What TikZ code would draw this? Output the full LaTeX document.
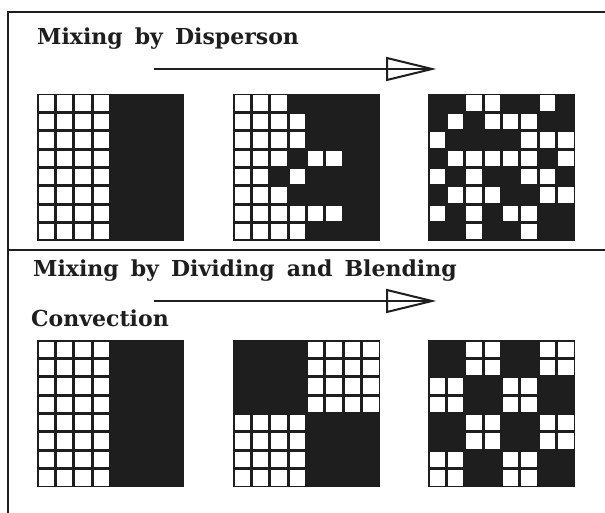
\documentclass[tikz,border=0pt]{standalone}
\usepackage{fontspec}
\setmainfont{DejaVu Serif}
\usetikzlibrary{calc}
\definecolor{ink}{HTML}{1E1E1E}
\newcommand{\widespacing}{\spaceskip=0.55em\relax}
\tikzset{
  frameline/.style={line width=2pt, draw=ink},
  titletext/.style={anchor=base west, inner sep=0pt, text=ink,
    font=\fontsize{22}{25}\selectfont\bfseries,
    execute at begin node=\widespacing},
  flowline/.style={line width=1.6pt, draw=ink},
  openhead/.style={line width=2pt, draw=ink, line join=miter},
}
\newcommand{\mixgrid}[3]{%
  \fill[ink] (#1,#2) rectangle ++(147,147);
  \foreach \r/\cs in {#3} {
    \foreach \c in \cs {
      \fill[white] ({#1+\c*18.375+1.5},{#2+\r*18.375+1.5}) rectangle ++(15.375,15.375);
    }
  }
}
\begin{document}
\begin{tikzpicture}[x=1pt,y=-1pt]
\useasboundingbox (0,0) rectangle (605,513);
% frame
\coordinate (tl) at (8,12);
\coordinate (tr) at (605,12);
\coordinate (bl) at (8,513);
\coordinate (ml) at (8,250);
\coordinate (mr) at (605,250);
\draw[frameline] (tr) -- (tl) -- (bl);
\draw[frameline] (ml) -- (mr);
% titles
\node[titletext] (t1) at (37,45) {Mixing by Disperson};
\node[titletext] (t2) at (33,276) {Mixing by Dividing and Blending};
\node[titletext] (t3) at (31,326) {Convection};
% arrows
\coordinate (a1s) at (154,69);
\coordinate (a1e) at (432,69);
\draw[flowline] (a1s) -- (a1e);
\draw[openhead] (a1e) -- ($(a1e)+(-45,-11)$) -- ($(a1e)+(-45,11)$) -- cycle;
\coordinate (a2s) at (154,301);
\coordinate (a2e) at (432,301);
\draw[flowline] (a2s) -- (a2e);
\draw[openhead] (a2e) -- ($(a2e)+(-45,-11)$) -- ($(a2e)+(-45,11)$) -- cycle;
% grids: dispersion
\mixgrid{37}{94}{0/{0,1,2,3},1/{0,1,2,3},2/{0,1,2,3},3/{0,1,2,3},4/{0,1,2,3},5/{0,1,2,3},6/{0,1,2,3},7/{0,1,2,3}}
\mixgrid{233}{94}{0/{0,1,2},1/{0,1,2,3},2/{0,1,2,3},3/{0,1,2,4,5},4/{0,1,3},5/{0,1,2},6/{0,1,2,3,4,5},7/{0,1,2,3}}
\mixgrid{428}{94}{0/{2,3,6},1/{1,3,4,5},2/{0,5,6,7},3/{1,2,3,4,5,7},4/{0,2,5,6},5/{1,2,3,6,7},6/{0,2,4,5},7/{2,5}}
% grids: convection
\mixgrid{37}{340}{0/{0,1,2,3},1/{0,1,2,3},2/{0,1,2,3},3/{0,1,2,3},4/{0,1,2,3},5/{0,1,2,3},6/{0,1,2,3},7/{0,1,2,3}}
\mixgrid{233}{340}{0/{4,5,6,7},1/{4,5,6,7},2/{4,5,6,7},3/{4,5,6,7},4/{0,1,2,3},5/{0,1,2,3},6/{0,1,2,3},7/{0,1,2,3}}
\mixgrid{428}{340}{0/{2,3,6,7},1/{2,3,6,7},2/{0,1,4,5},3/{0,1,4,5},4/{2,3,6,7},5/{2,3,6,7},6/{0,1,4,5},7/{0,1,4,5}}
\end{tikzpicture}
\end{document}
